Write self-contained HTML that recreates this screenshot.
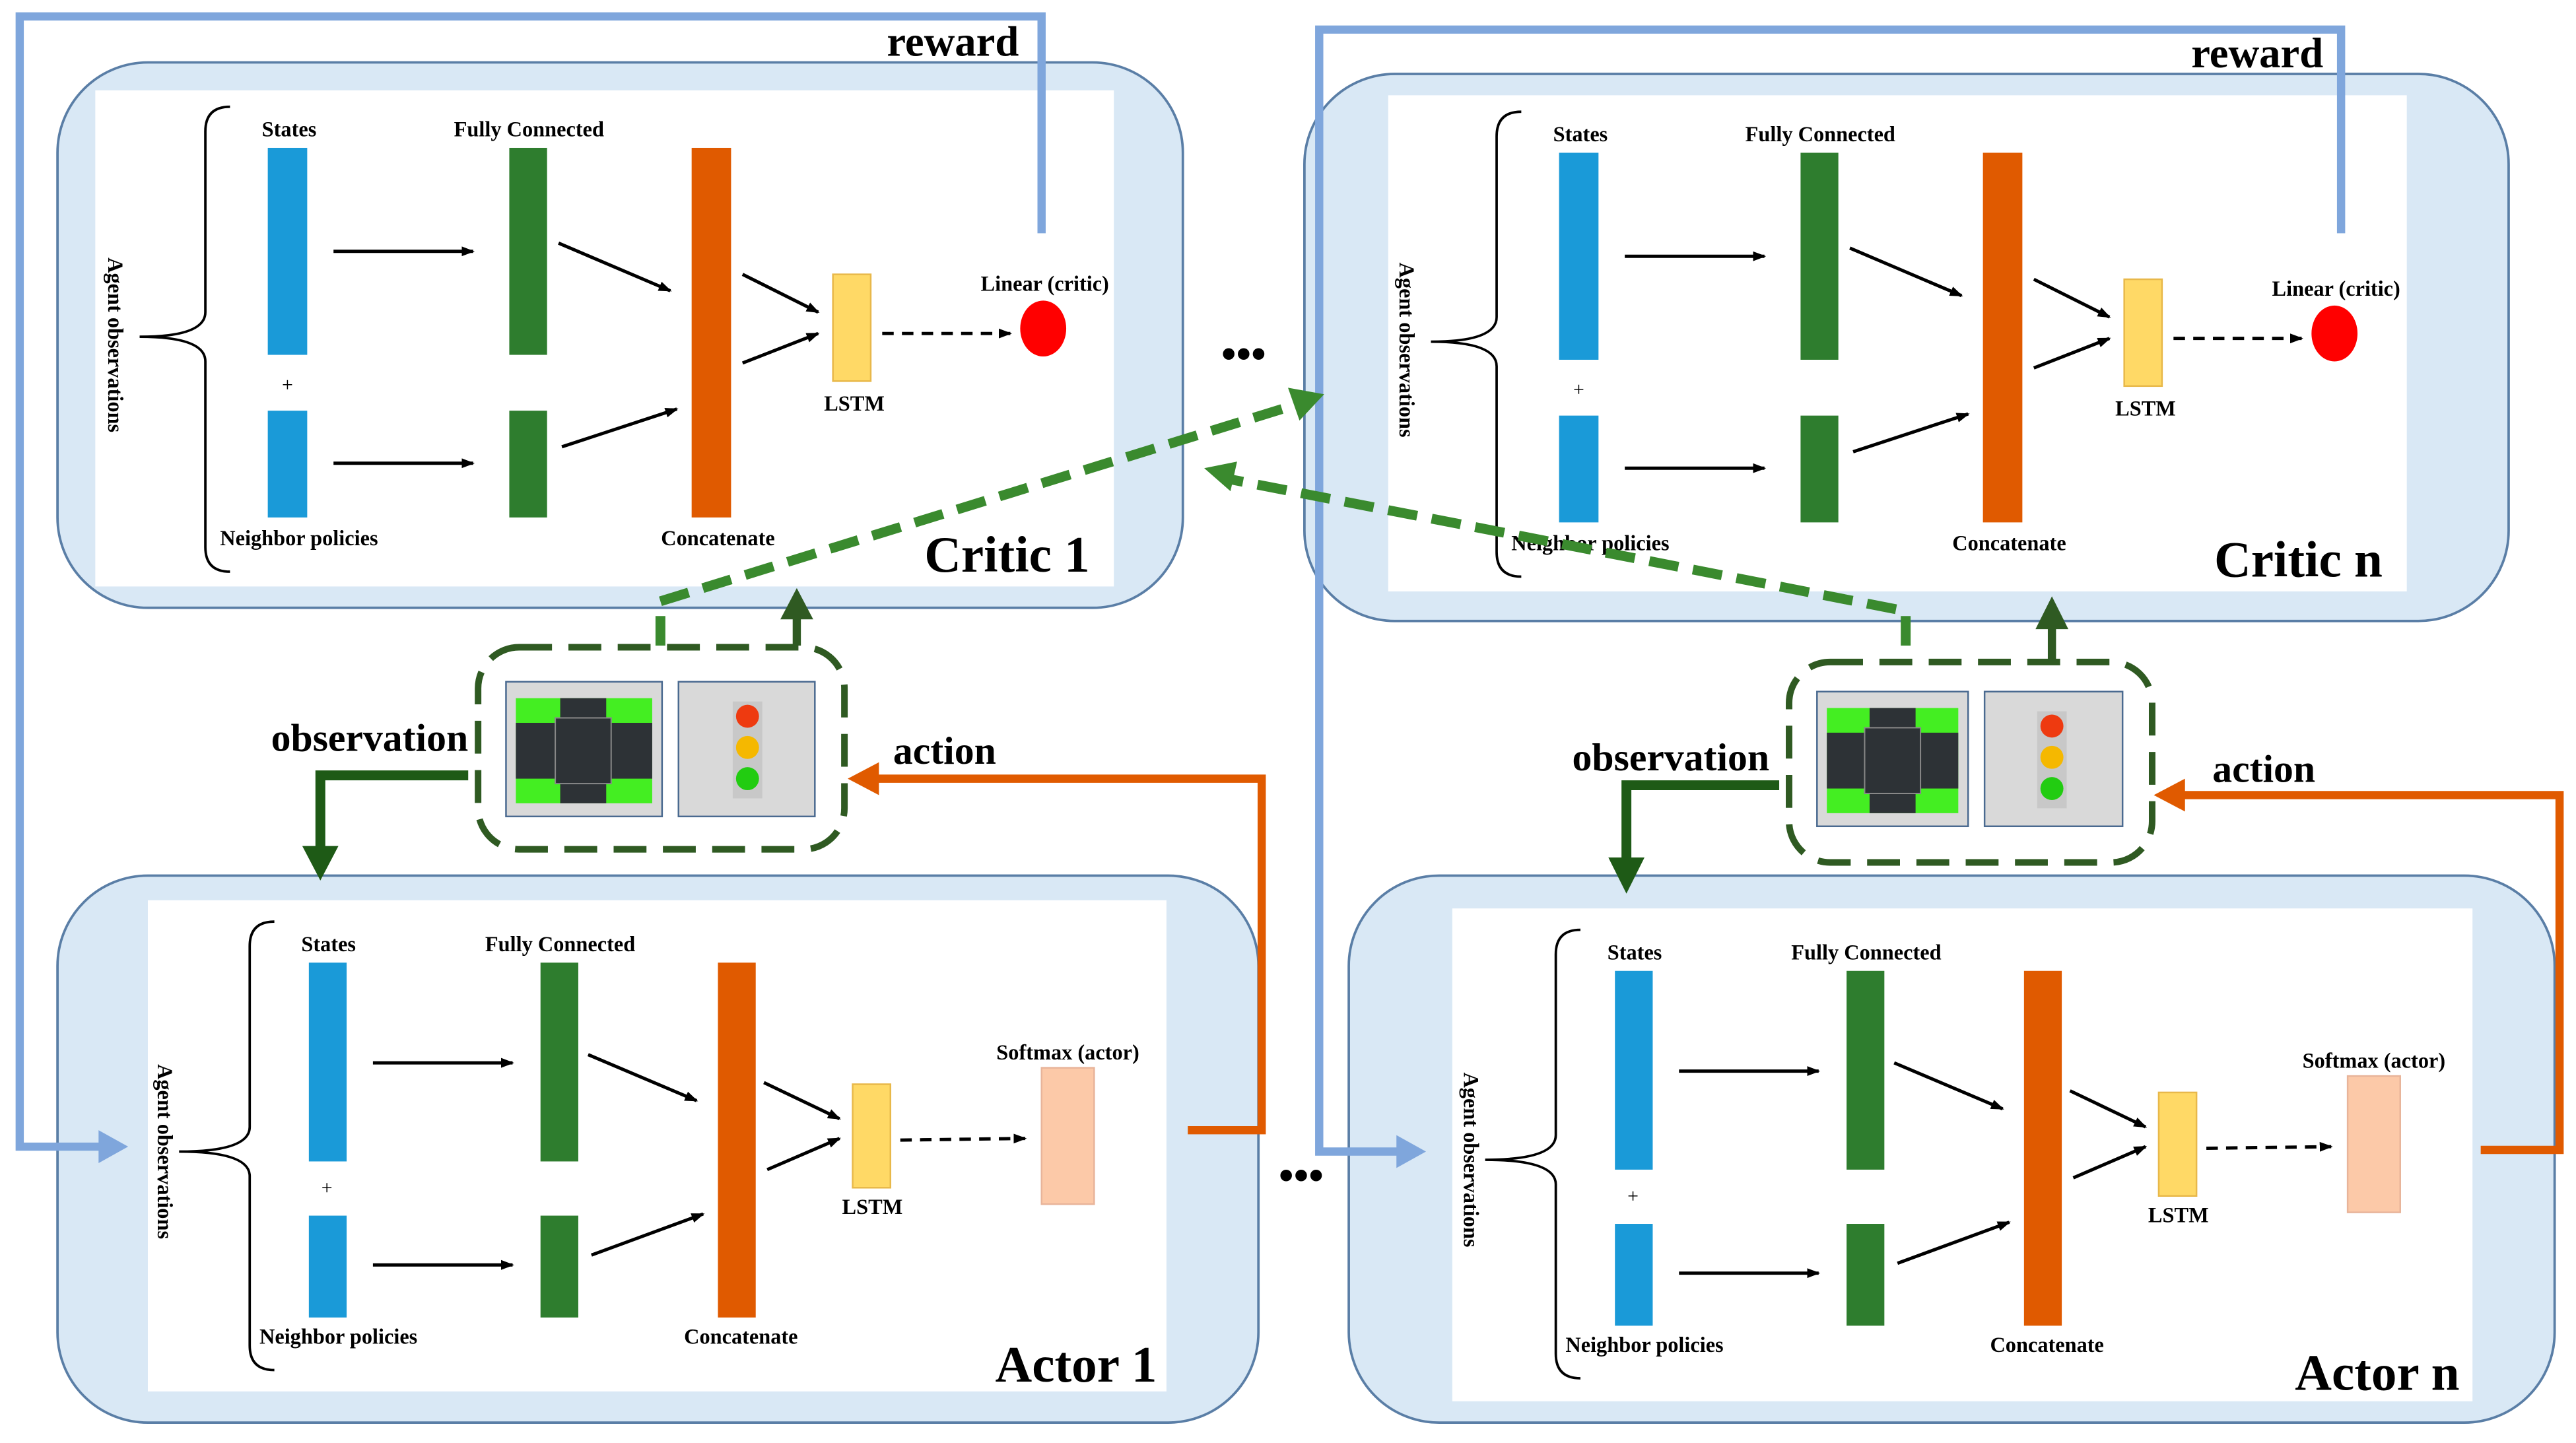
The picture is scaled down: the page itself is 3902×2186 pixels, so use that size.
<!DOCTYPE html>
<html><head><meta charset="utf-8"><style>
html,body{margin:0;padding:0;background:#fff;width:3902px;height:2186px;overflow:hidden}
svg{display:block}
text{font-family:"Liberation Serif",serif;font-weight:bold;fill:#000}
.l{font-size:13px}
.big{font-size:31px}
</style></head><body>
<svg width="3902" height="2186" viewBox="0 0 1568 878.4" preserveAspectRatio="none" xmlns="http://www.w3.org/2000/svg">
<defs>
<marker id="ab" markerWidth="8" markerHeight="8" refX="7" refY="4" orient="auto" markerUnits="userSpaceOnUse"><path d="M0,1 L8,4 L0,7 z" fill="#000"/></marker>
</defs>
<rect width="1568" height="878.4" fill="#fff"/>

<rect x="35" y="38" width="685" height="332" rx="55" fill="#d9e8f5" stroke="#5a7ea6" stroke-width="1.5"/>
<rect x="58" y="55" width="620" height="302" fill="#fff"/>
<rect x="794" y="45" width="733" height="333" rx="55" fill="#d9e8f5" stroke="#5a7ea6" stroke-width="1.5"/>
<rect x="845" y="58" width="620" height="302" fill="#fff"/>
<rect x="35" y="533" width="731" height="333" rx="55" fill="#d9e8f5" stroke="#5a7ea6" stroke-width="1.5"/>
<rect x="90" y="548" width="620" height="299" fill="#fff"/>
<rect x="821" y="533" width="734" height="333" rx="55" fill="#d9e8f5" stroke="#5a7ea6" stroke-width="1.5"/>
<rect x="884" y="553" width="621" height="300" fill="#fff"/>

<!-- Critic 1 -->
<g>
<path d="M140,65 Q125,65 125,80 L125,190 Q125,205 85,205 Q125,205 125,220 L125,333 Q125,348 140,348" fill="none" stroke="#000" stroke-width="1.5"/>
<text class="l" transform="translate(66,210) rotate(90)" text-anchor="middle">Agent observations</text>
<text class="l" x="176" y="83" text-anchor="middle">States</text>
<rect x="163" y="90" width="24" height="126" fill="#1a9ad8"/>
<text x="175" y="238" font-size="12" text-anchor="middle" style="font-weight:normal">+</text>
<rect x="163" y="250" width="24" height="65" fill="#1a9ad8"/>
<text class="l" x="182" y="332" text-anchor="middle">Neighbor policies</text>
<line x1="203" y1="153" x2="288" y2="153" stroke="#000" stroke-width="2" marker-end="url(#ab)"/>
<line x1="203" y1="282" x2="288" y2="282" stroke="#000" stroke-width="2" marker-end="url(#ab)"/>
<text class="l" x="322" y="83" text-anchor="middle">Fully Connected</text>
<rect x="310" y="90" width="23" height="126" fill="#2e7d2e"/>
<rect x="310" y="250" width="23" height="65" fill="#2e7d2e"/>
<line x1="340" y1="148" x2="408" y2="177" stroke="#000" stroke-width="2" marker-end="url(#ab)"/>
<line x1="342" y1="272" x2="412" y2="249" stroke="#000" stroke-width="2" marker-end="url(#ab)"/>
<rect x="421" y="90" width="24" height="225" fill="#e05a00"/>
<text class="l" x="437" y="332" text-anchor="middle">Concatenate</text>
<line x1="452" y1="167" x2="498" y2="190" stroke="#000" stroke-width="2" marker-end="url(#ab)"/>
<line x1="452" y1="221" x2="498" y2="203" stroke="#000" stroke-width="2" marker-end="url(#ab)"/>
<rect x="507" y="167" width="23" height="65" fill="#ffd966" stroke="#e8b84a"/>
<text class="l" x="520" y="250" text-anchor="middle">LSTM</text>
<line x1="537" y1="203" x2="615" y2="203" stroke="#000" stroke-width="2" stroke-dasharray="7,5" marker-end="url(#ab)"/>
<ellipse cx="635" cy="200" rx="14" ry="17" fill="#ff0000"/>
<text class="l" x="636" y="177" text-anchor="middle">Linear (critic)</text>
<text class="big" x="613" y="348" text-anchor="middle">Critic 1</text>
</g>

<!-- Critic n -->
<g transform="translate(786,3)">
<path d="M140,65 Q125,65 125,80 L125,190 Q125,205 85,205 Q125,205 125,220 L125,333 Q125,348 140,348" fill="none" stroke="#000" stroke-width="1.5"/>
<text class="l" transform="translate(66,210) rotate(90)" text-anchor="middle">Agent observations</text>
<text class="l" x="176" y="83" text-anchor="middle">States</text>
<rect x="163" y="90" width="24" height="126" fill="#1a9ad8"/>
<text x="175" y="238" font-size="12" text-anchor="middle" style="font-weight:normal">+</text>
<rect x="163" y="250" width="24" height="65" fill="#1a9ad8"/>
<text class="l" x="182" y="332" text-anchor="middle">Neighbor policies</text>
<line x1="203" y1="153" x2="288" y2="153" stroke="#000" stroke-width="2" marker-end="url(#ab)"/>
<line x1="203" y1="282" x2="288" y2="282" stroke="#000" stroke-width="2" marker-end="url(#ab)"/>
<text class="l" x="322" y="83" text-anchor="middle">Fully Connected</text>
<rect x="310" y="90" width="23" height="126" fill="#2e7d2e"/>
<rect x="310" y="250" width="23" height="65" fill="#2e7d2e"/>
<line x1="340" y1="148" x2="408" y2="177" stroke="#000" stroke-width="2" marker-end="url(#ab)"/>
<line x1="342" y1="272" x2="412" y2="249" stroke="#000" stroke-width="2" marker-end="url(#ab)"/>
<rect x="421" y="90" width="24" height="225" fill="#e05a00"/>
<text class="l" x="437" y="332" text-anchor="middle">Concatenate</text>
<line x1="452" y1="167" x2="498" y2="190" stroke="#000" stroke-width="2" marker-end="url(#ab)"/>
<line x1="452" y1="221" x2="498" y2="203" stroke="#000" stroke-width="2" marker-end="url(#ab)"/>
<rect x="507" y="167" width="23" height="65" fill="#ffd966" stroke="#e8b84a"/>
<text class="l" x="520" y="250" text-anchor="middle">LSTM</text>
<line x1="537" y1="203" x2="615" y2="203" stroke="#000" stroke-width="2" stroke-dasharray="7,5" marker-end="url(#ab)"/>
<ellipse cx="635" cy="200" rx="14" ry="17" fill="#ff0000"/>
<text class="l" x="636" y="177" text-anchor="middle">Linear (critic)</text>
<text class="big" x="613" y="348" text-anchor="middle">Critic n</text>
</g>

<!-- Actor 1 -->
<g transform="translate(24,496)">
<path d="M143,65 Q128,65 128,80 L128,190 Q128,205 85,205 Q128,205 128,220 L128,323 Q128,338 143,338" fill="none" stroke="#000" stroke-width="1.5"/>
<text class="l" transform="translate(72,205) rotate(90)" text-anchor="middle">Agent observations</text>
<text class="l" x="176" y="83" text-anchor="middle">States</text>
<rect x="164" y="90" width="23" height="121" fill="#1a9ad8"/>
<text x="175" y="231" font-size="12" text-anchor="middle" style="font-weight:normal">+</text>
<rect x="164" y="244" width="23" height="62" fill="#1a9ad8"/>
<text class="l" x="182" y="322" text-anchor="middle">Neighbor policies</text>
<line x1="203" y1="151" x2="288" y2="151" stroke="#000" stroke-width="2" marker-end="url(#ab)"/>
<line x1="203" y1="274" x2="288" y2="274" stroke="#000" stroke-width="2" marker-end="url(#ab)"/>
<text class="l" x="317" y="83" text-anchor="middle">Fully Connected</text>
<rect x="305" y="90" width="23" height="121" fill="#2e7d2e"/>
<rect x="305" y="244" width="23" height="62" fill="#2e7d2e"/>
<line x1="334" y1="146" x2="400" y2="174" stroke="#000" stroke-width="2" marker-end="url(#ab)"/>
<line x1="336" y1="268" x2="404" y2="243" stroke="#000" stroke-width="2" marker-end="url(#ab)"/>
<rect x="413" y="90" width="23" height="216" fill="#e05a00"/>
<text class="l" x="427" y="322" text-anchor="middle">Concatenate</text>
<line x1="441" y1="163" x2="487" y2="185" stroke="#000" stroke-width="2" marker-end="url(#ab)"/>
<line x1="443" y1="216" x2="487" y2="197" stroke="#000" stroke-width="2" marker-end="url(#ab)"/>
<rect x="495" y="164" width="23" height="63" fill="#ffd966" stroke="#e8b84a"/>
<text class="l" x="507" y="243" text-anchor="middle">LSTM</text>
<line x1="524" y1="198" x2="600" y2="197" stroke="#000" stroke-width="2" stroke-dasharray="7,5" marker-end="url(#ab)"/>
<rect x="610" y="154" width="32" height="83" fill="#fcc9a8" stroke="#e8b49a"/>
<text class="l" x="626" y="149" text-anchor="middle">Softmax (actor)</text>
<text class="big" x="631" y="345" text-anchor="middle">Actor 1</text>
</g>

<!-- Actor n -->
<g transform="translate(819,501)">
<path d="M143,65 Q128,65 128,80 L128,190 Q128,205 85,205 Q128,205 128,220 L128,323 Q128,338 143,338" fill="none" stroke="#000" stroke-width="1.5"/>
<text class="l" transform="translate(72,205) rotate(90)" text-anchor="middle">Agent observations</text>
<text class="l" x="176" y="83" text-anchor="middle">States</text>
<rect x="164" y="90" width="23" height="121" fill="#1a9ad8"/>
<text x="175" y="231" font-size="12" text-anchor="middle" style="font-weight:normal">+</text>
<rect x="164" y="244" width="23" height="62" fill="#1a9ad8"/>
<text class="l" x="182" y="322" text-anchor="middle">Neighbor policies</text>
<line x1="203" y1="151" x2="288" y2="151" stroke="#000" stroke-width="2" marker-end="url(#ab)"/>
<line x1="203" y1="274" x2="288" y2="274" stroke="#000" stroke-width="2" marker-end="url(#ab)"/>
<text class="l" x="317" y="83" text-anchor="middle">Fully Connected</text>
<rect x="305" y="90" width="23" height="121" fill="#2e7d2e"/>
<rect x="305" y="244" width="23" height="62" fill="#2e7d2e"/>
<line x1="334" y1="146" x2="400" y2="174" stroke="#000" stroke-width="2" marker-end="url(#ab)"/>
<line x1="336" y1="268" x2="404" y2="243" stroke="#000" stroke-width="2" marker-end="url(#ab)"/>
<rect x="413" y="90" width="23" height="216" fill="#e05a00"/>
<text class="l" x="427" y="322" text-anchor="middle">Concatenate</text>
<line x1="441" y1="163" x2="487" y2="185" stroke="#000" stroke-width="2" marker-end="url(#ab)"/>
<line x1="443" y1="216" x2="487" y2="197" stroke="#000" stroke-width="2" marker-end="url(#ab)"/>
<rect x="495" y="164" width="23" height="63" fill="#ffd966" stroke="#e8b84a"/>
<text class="l" x="507" y="243" text-anchor="middle">LSTM</text>
<line x1="524" y1="198" x2="600" y2="197" stroke="#000" stroke-width="2" stroke-dasharray="7,5" marker-end="url(#ab)"/>
<rect x="610" y="154" width="32" height="83" fill="#fcc9a8" stroke="#e8b49a"/>
<text class="l" x="626" y="149" text-anchor="middle">Softmax (actor)</text>
<text class="big" x="628" y="345" text-anchor="middle">Actor n</text>
</g>

<g fill="none" stroke="#7fa6dc" stroke-width="5">
<polyline points="634,142 634,10 12,10 12,698 62,698"/>
<polyline points="1425,142 1425,18 803,18 803,701 852,701"/>
</g>
<path d="M60,688 L78,698 L60,708 z" fill="#7fa6dc"/>
<path d="M850,691 L868,701 L850,711 z" fill="#7fa6dc"/>
<text x="580" y="34" font-size="26" text-anchor="middle">reward</text>
<text x="1374" y="41" font-size="26" text-anchor="middle">reward</text>

<text x="757" y="224" font-size="26" text-anchor="middle">•••</text>
<text x="792" y="724" font-size="26" text-anchor="middle">•••</text>

<rect x="291" y="394" width="223" height="123" rx="25" fill="none" stroke="#2f5a22" stroke-width="4" stroke-dasharray="20,10"/>
<rect x="1089" y="403" width="221" height="122" rx="25" fill="none" stroke="#2f5a22" stroke-width="4" stroke-dasharray="20,10"/>

<g transform="translate(308,415)">
<rect width="95" height="82" fill="#d9d9d9" stroke="#4a6a90"/>
<rect x="6" y="10" width="83" height="64" fill="#44ee22"/>
<rect x="6" y="25" width="83" height="34" fill="#2d3236"/>
<rect x="33" y="10" width="28" height="64" fill="#2d3236"/>
<rect x="30" y="22" width="34" height="40" fill="#2d3236" stroke="#888" stroke-width="0.8"/>
</g>
<g transform="translate(413,415)">
<rect width="83" height="82" fill="#d9d9d9" stroke="#4a6a90"/>
<rect x="33" y="12" width="18" height="59" fill="#c8c8c8"/>
<circle cx="42" cy="21" r="7" fill="#ee3a10"/>
<circle cx="42" cy="40" r="7" fill="#f5b800"/>
<circle cx="42" cy="59" r="7" fill="#22cc11"/>
</g>
<g transform="translate(1106,421)">
<rect width="92" height="82" fill="#d9d9d9" stroke="#4a6a90"/>
<rect x="6" y="10" width="80" height="64" fill="#44ee22"/>
<rect x="6" y="25" width="80" height="34" fill="#2d3236"/>
<rect x="32" y="10" width="28" height="64" fill="#2d3236"/>
<rect x="29" y="22" width="34" height="40" fill="#2d3236" stroke="#888" stroke-width="0.8"/>
</g>
<g transform="translate(1208,421)">
<rect width="84" height="82" fill="#d9d9d9" stroke="#4a6a90"/>
<rect x="32" y="12" width="18" height="59" fill="#c8c8c8"/>
<circle cx="41" cy="21" r="7" fill="#ee3a10"/>
<circle cx="41" cy="40" r="7" fill="#f5b800"/>
<circle cx="41" cy="59" r="7" fill="#22cc11"/>
</g>

<line x1="485" y1="393" x2="485" y2="375" stroke="#2f5a22" stroke-width="5"/>
<path d="M475,377 L485,358 L495,377 z" fill="#2f5a22"/>
<line x1="1249" y1="402" x2="1249" y2="381" stroke="#2f5a22" stroke-width="5"/>
<path d="M1239,383 L1249,363 L1259,383 z" fill="#2f5a22"/>

<polyline points="402,393 402,366 790,246" fill="none" stroke="#3a8a2e" stroke-width="6" stroke-dasharray="18,9"/>
<path d="M784,236 L806,240 L791,256 z" fill="#3a8a2e"/>
<polyline points="1160,393 1160,372 750,292" fill="none" stroke="#3a8a2e" stroke-width="6" stroke-dasharray="18,9"/>
<path d="M753,281 L733,285 L749,299 z" fill="#3a8a2e"/>

<polyline points="285,472 195,472 195,518" fill="none" stroke="#1e5a16" stroke-width="6"/>
<path d="M184,515 L195,536 L206,515 z" fill="#1e5a16"/>
<polyline points="1083,478 990,478 990,525" fill="none" stroke="#1e5a16" stroke-width="6"/>
<path d="M979,522 L990,544 L1001,522 z" fill="#1e5a16"/>
<text x="225" y="457" font-size="24" text-anchor="middle">observation</text>
<text x="1017" y="469" font-size="24" text-anchor="middle">observation</text>

<polyline points="723,688 768,688 768,474 532,474" fill="none" stroke="#e05a00" stroke-width="5"/>
<path d="M535,464 L516,474 L535,484 z" fill="#e05a00"/>
<polyline points="1510,700 1558,700 1558,484 1328,484" fill="none" stroke="#e05a00" stroke-width="5"/>
<path d="M1330,474 L1311,484 L1330,494 z" fill="#e05a00"/>
<text x="575" y="465" font-size="24" text-anchor="middle">action</text>
<text x="1378" y="476" font-size="24" text-anchor="middle">action</text>
</svg>
</body></html>
